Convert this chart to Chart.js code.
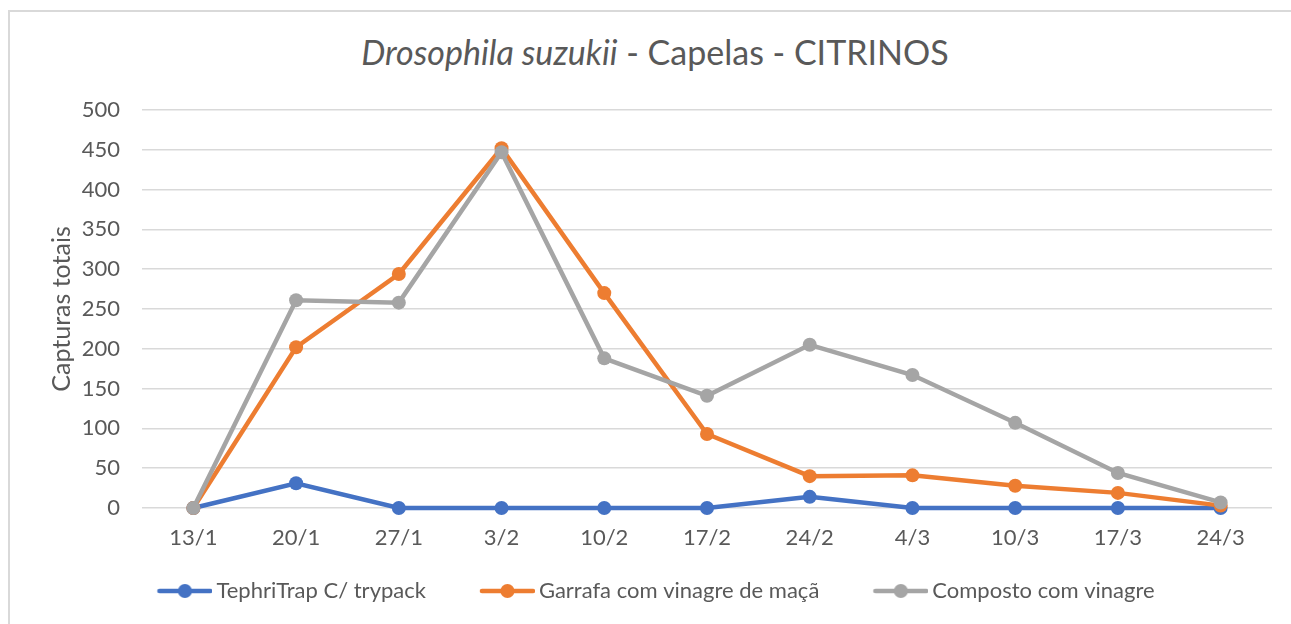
<!DOCTYPE html>
<html>
<head>
<meta charset="utf-8">
<script src="https://cdn.jsdelivr.net/npm/chart.js@4.4.0/dist/chart.umd.min.js"></script>
<style>
html,body{margin:0;overflow:hidden}
body{background:#fff;width:1291px;height:624px;position:relative;font-family:Lato,sans-serif}
#frame{position:absolute;left:8px;top:10px;width:1400px;height:700px;border-left:2px solid #d9d9d9;border-top:2px solid #d9d9d9}
#title{position:absolute;left:0;top:32px;width:1310px;text-align:center;font-size:34px;line-height:40px;color:#595959}
#chart{position:absolute;left:0;top:0}
</style>
</head>
<body>
<div id="frame"></div>
<div id="title"><i>Drosophila suzukii</i> - Capelas - CITRINOS</div>
<canvas id="chart" width="1291" height="624"></canvas>
<script>
const labels = ["13/1","20/1","27/1","3/2","10/2","17/2","24/2","4/3","10/3","17/3","24/3"];
const tephriTrap = [0,31,0,0,0,0,14,0,0,0,0];
const garrafa = [0,202,294,452,270,93,40,41,28,19,3];
const composto = [0,261,258,447,188,141,205,167,107,44,7];
const seriesNames = ["TephriTrap C/ trypack","Garrafa com vinagre de maçã","Composto com vinagre"];
const seriesColors = ["#4472C4","#ED7D31","#A5A5A5"];

Chart.defaults.font.family = "Lato, sans-serif";
Chart.defaults.color = "#595959";

// legend marker: line with a dot, left part left transparent for spacing
function makeMark(color){
    const c = document.createElement("canvas");
    c.width = 102; c.height = 18;
    const g = c.getContext("2d");
    g.strokeStyle = color; g.lineWidth = 4.5; g.lineCap = "round";
    g.beginPath(); g.moveTo(49,9); g.lineTo(100,9); g.stroke();
    g.fillStyle = color;
    g.beginPath(); g.arc(74.5,9,7,0,Math.PI*2); g.fill();
    return c;
}
const legendMarks = seriesColors.map(makeMark);

const dataSets = [tephriTrap, garrafa, composto].map((vals,i)=>({
    label: seriesNames[i],
    data: vals,
    borderColor: seriesColors[i],
    backgroundColor: seriesColors[i],
    borderWidth: 4.5,
    pointRadius: 7,
    pointBorderWidth: 0,
    pointHoverRadius: 7,
    tension: 0,
    clip: false,
    order: 3-i
}));

new Chart(document.getElementById("chart"), {
    type: "line",
    data: { labels: labels, datasets: dataSets },
    options: {
        responsive: false,
        devicePixelRatio: 1,
        animation: false,
        layout: { padding: { top:110, right:19, bottom:12, left:0 } },
        plugins: {
            title: { display:false },
            tooltip: { enabled:false },
            legend: {
                position: "bottom",
                labels: {
                    usePointStyle: true,
                    pointStyleWidth: 88,
                    boxHeight: 18,
                    padding: 14,
                    font: { size:22 },
                    color: "#595959",
                    generateLabels(chart){
                        const items = Chart.defaults.plugins.legend.labels.generateLabels(chart);
                        items.sort((a,b)=>a.datasetIndex-b.datasetIndex);
                        items.forEach(it=>{ it.pointStyle = legendMarks[it.datasetIndex]; });
                        return items;
                    }
                }
            }
        },
        scales: {
            x: {
                offset: true,
                grid: { display:false },
                border: { display:false },
                ticks: { font:{ size:22 }, padding:9, maxRotation:0 },
                afterFit(s){ s.height = 58; }
            },
            y: {
                min: 0, max: 500,
                ticks: { stepSize:50, font:{ size:22 }, padding:22 },
                grid: { color:"#d9d9d9", lineWidth:1.5, drawTicks:false },
                border: { display:false },
                title: { display:true, text:"Capturas totais", font:{ size:25 }, padding:{ top:47, bottom:0 } },
                afterFit(s){ s.width = 142; }
            }
        }
    }
});
</script>
</body>
</html>
